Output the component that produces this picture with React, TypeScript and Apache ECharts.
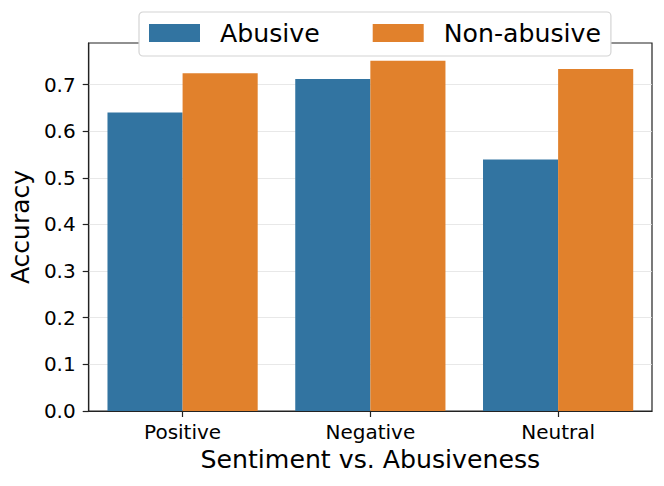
import React, { useEffect, useRef } from "react";
import * as echarts from "echarts";

const categories = ["Positive", "Negative", "Neutral"];
const abusive = [0.64, 0.712, 0.539];
const nonAbusive = [0.724, 0.751, 0.733];
const yTicks = [0, 0.1, 0.2, 0.3, 0.4, 0.5, 0.6, 0.7];
const seriesNames = ["Abusive", "Non-abusive"];
const xTitle = "Sentiment vs. Abusiveness";
const yTitle = "Accuracy";

const FONT = "DejaVu Sans";

export default function App() {
  const ref = useRef<HTMLDivElement>(null);
  useEffect(() => {
    if (!ref.current) return;
    const chart = echarts.init(ref.current, null, { renderer: "svg" });
    chart.setOption({
      animation: false,
      textStyle: { fontFamily: FONT, color: "#000" },
      grid: {
        left: 86,
        right: 12,
        top: 43,
        bottom: 75,
        show: true,
        borderColor: "#222",
        borderWidth: 1.2,
        backgroundColor: "transparent",
      },
      legend: {
        data: seriesNames,
        left: 139,
        top: 12,
        icon: "rect",
        itemWidth: 51,
        itemHeight: 18,
        itemGap: 53,
        padding: [8, 10, 10, 10],
        backgroundColor: "#fff",
        borderColor: "#d4d4d4",
        borderWidth: 1.2,
        borderRadius: 4,
        textStyle: {
          fontFamily: FONT,
          fontSize: 25.2,
          color: "#000",
          padding: [0, 0, 0, 15],
          lineHeight: 26,
        },
      },
      xAxis: {
        type: "category",
        data: categories,
        name: xTitle,
        nameLocation: "middle",
        nameGap: 36,
        nameTextStyle: { fontFamily: FONT, fontSize: 25.2, color: "#000" },
        axisLine: { show: true, lineStyle: { color: "#222", width: 1.2 } },
        axisTick: {
          show: true,
          alignWithLabel: true,
          length: 6,
          lineStyle: { color: "#222", width: 1.2 },
        },
        axisLabel: {
          fontFamily: FONT,
          fontSize: 20,
          color: "#000",
          margin: 11,
        },
        splitLine: { show: false },
      },
      yAxis: {
        type: "value",
        min: 0,
        max: 0.789,
        interval: 0.1,
        name: yTitle,
        nameLocation: "middle",
        nameRotate: 90,
        nameGap: 52,
        nameTextStyle: { fontFamily: FONT, fontSize: 25, color: "#000" },
        axisLine: { show: true, lineStyle: { color: "#222", width: 1.2 } },
        axisTick: {
          show: true,
          length: 6,
          customValues: yTicks,
          lineStyle: { color: "#222", width: 1.2 },
        },
        axisLabel: {
          fontFamily: FONT,
          fontSize: 20,
          color: "#000",
          margin: 13,
          customValues: yTicks,
          formatter: (v: number) => v.toFixed(1),
        },
        splitLine: {
          show: true,
          lineStyle: { color: "#e2e2e2", width: 0.8 },
        },
      },
      series: [
        {
          name: seriesNames[0],
          type: "bar",
          data: abusive,
          barGap: "0%",
          barCategoryGap: "20%",
          itemStyle: { color: "#3274a1" },
        },
        {
          name: seriesNames[1],
          type: "bar",
          data: nonAbusive,
          barGap: "0%",
          barCategoryGap: "20%",
          itemStyle: { color: "#e1812c" },
        },
      ],
    });
    return () => chart.dispose();
  }, []);
  return <div ref={ref} style={{ width: 664, height: 486, position: "absolute", left: 0, top: 0 }} />;
}
